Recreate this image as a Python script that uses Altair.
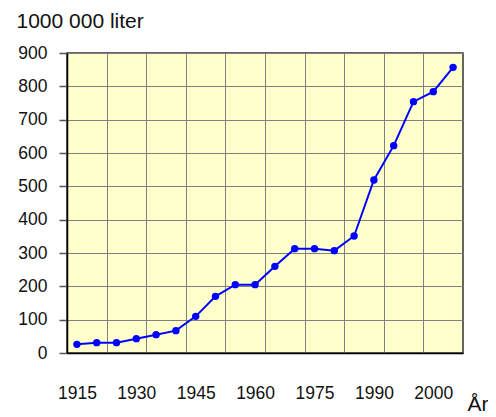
import altair as alt
import pandas as pd

years = ["1915", "1920", "1925", "1930", "1935", "1940", "1945", "1950", "1955", "1960",
         "1965", "1970", "1975", "1980", "1985", "1990", "1995", "1998", "2000", "2004"]
values = [26, 31, 31, 43, 55, 67, 110, 170, 205, 205,
          260, 313, 313, 307, 351, 519, 622, 754, 784, 857]
label_years = ["1915", "1930", "1945", "1960", "1975", "1990", "2000"]
y_ticks = [0, 100, 200, 300, 400, 500, 600, 700, 800, 900]

df = pd.DataFrame({"idx": list(range(len(years))), "year": years, "value": values})
label_idx = [years.index(y) for y in label_years]
grid_idx = [i + 0.5 for i in range(1, len(years) - 1, 2)]
lookup = "[" + ",".join("'%s'" % y for y in years) + "]"

FONT = "Liberation Sans"
xscale = alt.Scale(domain=[-0.5, len(years) - 0.5], nice=False, zero=False)

grid_layer = alt.Chart(df).mark_rule(opacity=0).encode(
    x=alt.X("idx:Q", scale=xscale,
            axis=alt.Axis(orient="top", values=grid_idx, grid=True, gridColor="#808080",
                          gridWidth=1, gridOpacity=1, labels=False, ticks=False,
                          domain=False, title=None))
)

line_layer = alt.Chart(df).mark_line(
    color="#0000FF", strokeWidth=2,
    point=alt.OverlayMarkDef(color="#0000FF", filled=True, size=55, opacity=1)
).encode(
    x=alt.X("idx:Q", scale=xscale,
            axis=alt.Axis(orient="bottom", values=label_idx,
                          labelExpr=lookup + "[round(datum.value)]",
                          grid=False, ticks=False, tickSize=0, labelPadding=31,
                          labelFont=FONT, labelFontSize=17.5, labelColor="#111",
                          domain=True, domainColor="#000", domainWidth=1.5,
                          title="År", titleFont=FONT, titleFontSize=21,
                          titleFontWeight="normal", titleColor="#111",
                          titleAlign="left", titleBaseline="alphabetic",
                          titleX=400, titleY=57)),
    y=alt.Y("value:Q", scale=alt.Scale(domain=[0, 900], nice=False),
            axis=alt.Axis(values=y_ticks, grid=True, gridColor="#808080", gridWidth=1,
                          gridOpacity=1, tickSize=8, tickColor="#555", tickWidth=1.5,
                          labelPadding=12, labelFont=FONT, labelFontSize=17.5,
                          labelColor="#111", domain=True, domainColor="#000",
                          domainWidth=1.5,
                          title="1000 000 liter", titleFont=FONT, titleFontSize=21,
                          titleFontWeight="normal", titleColor="#111", titleAngle=0,
                          titleAlign="left", titleBaseline="alphabetic",
                          titleX=-51, titleY=-26))
)

chart = alt.layer(grid_layer, line_layer).resolve_axis(x="independent").properties(
    width=396, height=300,
    autosize=alt.AutoSizeParams(type="none"),
    padding={"left": 59, "top": 45, "right": 25, "bottom": 60},
    background="white",
).configure_view(fill="#FFFFCC", stroke="#333", strokeWidth=1.5)

chart.save("out.html", embed_options={"renderer": "svg", "actions": False})
